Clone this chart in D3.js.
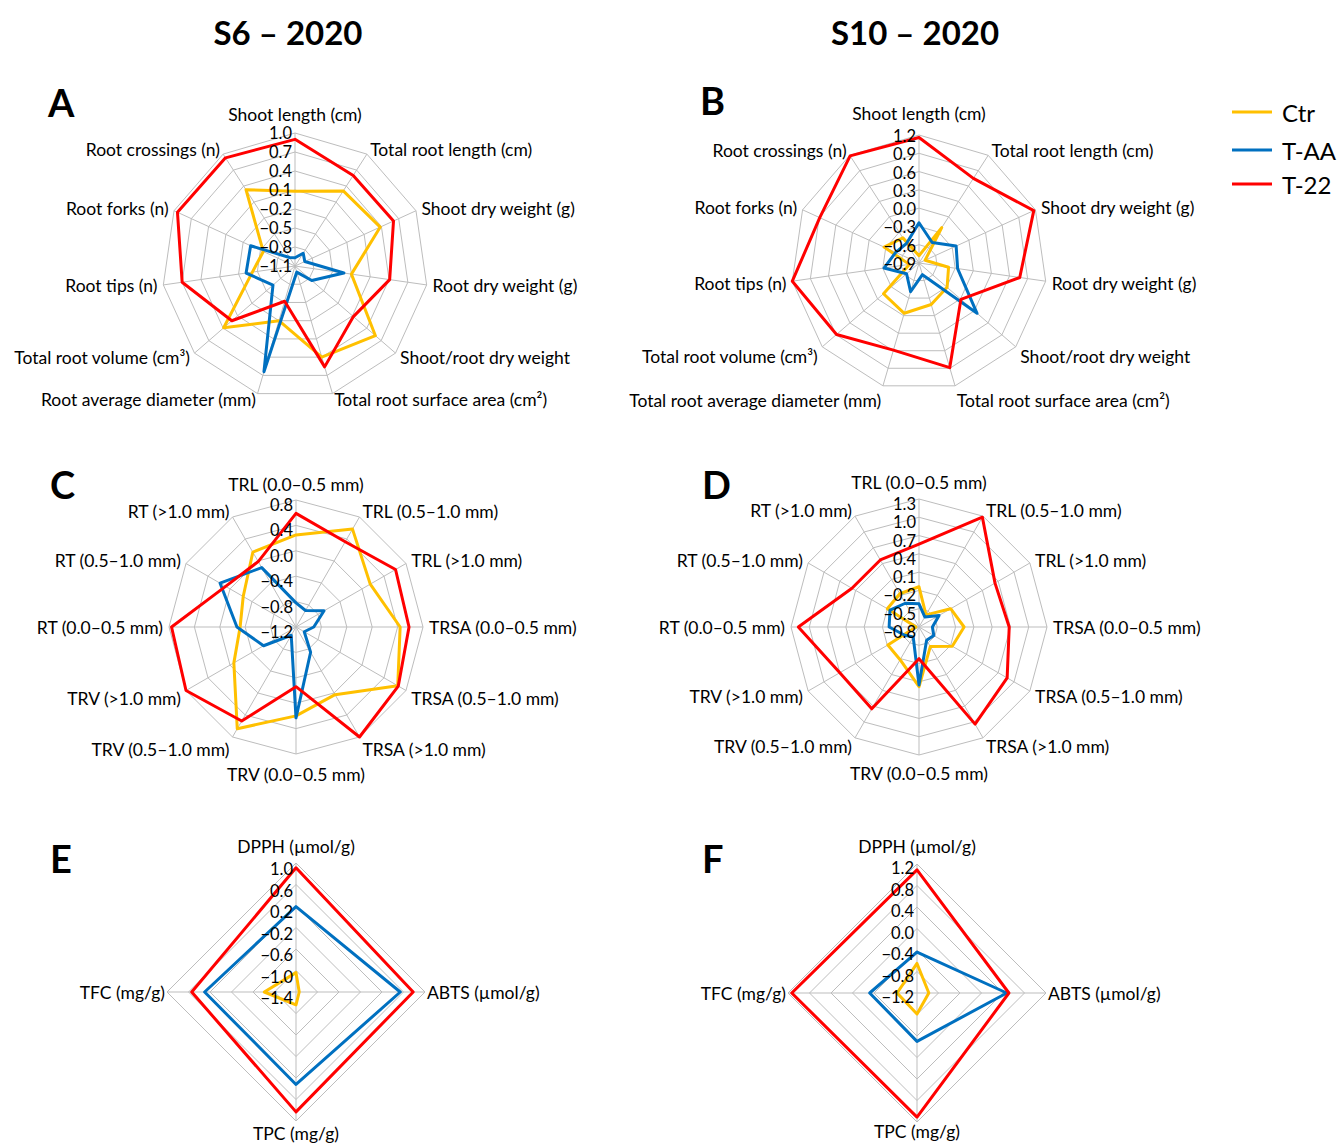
<!DOCTYPE html>
<html>
<head>
<meta charset="utf-8">
<script src="https://cdn.jsdelivr.net/npm/d3@7"></script>
<style>
  body { margin: 0; background: #fff; }
  text { font-family: Lato, "Open Sans", sans-serif; fill: #000; }
</style>
</head>
<body>
<svg id="chart" width="1339" height="1144"></svg>
<script>
// ---- series ----
const seriesNames = ["Ctr", "T-AA", "T-22"];
const seriesColors = ["#FFC000", "#0070C0", "#FF0000"];

// ---- axis categories ----
const growthAxesS6 = ["Shoot length (cm)", "Total root length (cm)", "Shoot dry weight (g)",
  "Root dry weight (g)", "Shoot/root dry weight", "Total root surface area (cm²)",
  "Root average diameter (mm)", "Total root volume (cm³)", "Root tips (n)",
  "Root forks (n)", "Root crossings (n)"];
const growthAxesS10 = ["Shoot length (cm)", "Total root length (cm)", "Shoot dry weight (g)",
  "Root dry weight (g)", "Shoot/root dry weight", "Total root surface area (cm²)",
  "Total root average diameter (mm)", "Total root volume (cm³)", "Root tips (n)",
  "Root forks (n)", "Root crossings (n)"];
const rootClassAxes = ["TRL (0.0–0.5 mm)", "TRL (0.5–1.0 mm)", "TRL (>1.0 mm)",
  "TRSA (0.0–0.5 mm)", "TRSA (0.5–1.0 mm)", "TRSA (>1.0 mm)",
  "TRV (0.0–0.5 mm)", "TRV (0.5–1.0 mm)", "TRV (>1.0 mm)",
  "RT (0.0–0.5 mm)", "RT (0.5–1.0 mm)", "RT (>1.0 mm)"];
const antioxAxes = ["DPPH (µmol/g)", "ABTS (µmol/g)", "TPC (mg/g)", "TFC (mg/g)"];

// ---- standardized values (A: S6 growth) ----
const ctrA = [0.08, 0.31, 0.38, -0.20, 0.58, 0.40, -0.20, 0.39, -0.42, -0.55, 0.33];
const taaA = [-0.97, -0.86, -0.93, -0.32, -0.75, -1.00, 0.64, -0.64, -0.32, -0.33, -0.94];
const t22A = [0.90, 0.60, 0.61, 0.41, 0.12, 0.56, -0.52, 0.22, 0.70, 0.94, 0.93];

// ---- B: S10 growth ----
const ctrB = [-0.78, -0.21, -0.79, -0.41, -0.29, -0.19, -0.04, -0.13, -0.74, -0.27, -0.41];
const taaB = [-0.24, -0.50, -0.23, -0.26, 0.36, -0.70, -0.41, -0.63, -0.32, -0.48, -0.52];
const t22B = [1.16, 0.75, 1.17, 0.77, 0.01, 0.89, 0.59, 0.89, 1.20, 0.89, 1.19];

// ---- C: S6 root diameter classes ----
const ctrC = [0.25, 0.58, 0.15, 0.44, 0.65, 0.03, 0.20, 0.65, -0.07, -0.32, -0.24, 0.16];
const taaC = [-0.82, -0.90, -0.69, -0.92, -1.05, -0.74, 0.23, -1.05, -0.61, -0.27, 0.18, -0.12];
const t22C = [0.59, 0.35, 0.61, 0.58, 0.66, 0.80, -0.26, 0.51, 0.80, 0.76, 0.08, -0.01];

// ---- D: S10 root diameter classes ----
const ctrD = [-0.14, -0.57, -0.20, -0.06, -0.17, -0.43, 0.18, -0.18, -0.21, -0.75, -0.20, -0.17];
const taaD = [-0.42, -0.61, -0.42, -0.58, -0.52, -0.55, 0.15, -0.61, -0.53, -0.31, -0.25, -0.35];
const t22D = [0.56, 1.28, 0.64, 0.68, 0.87, 1.04, -0.28, 0.75, 0.70, 1.18, 0.47, 0.47];

// ---- E / F: antioxidant activity ----
const ctrE = [-1.04, -1.34, -1.16, -0.81];
const taaE = [0.19, 0.54, 0.32, 0.30];
const t22E = [0.91, 0.78, 0.83, 0.54];
const ctrF = [-0.65, -0.98, -0.81, -0.83];
const taaF = [-0.44, 0.47, -0.30, -0.32];
const t22F = [1.09, 0.51, 1.11, 1.13];

// ---- radial tick values ----
const ticksA = [-1.1, -0.8, -0.5, -0.2, 0.1, 0.4, 0.7, 1.0];
const ticksB = [-0.9, -0.6, -0.3, 0.0, 0.3, 0.6, 0.9, 1.2];
const ticksC = [-1.2, -0.8, -0.4, 0.0, 0.4, 0.8];
const ticksD = [-0.8, -0.5, -0.2, 0.1, 0.4, 0.7, 1.0, 1.3];
const ticksE = [-1.4, -1.0, -0.6, -0.2, 0.2, 0.6, 1.0];
const ticksF = [-1.2, -0.8, -0.4, 0.0, 0.4, 0.8, 1.2];

const columnTitles = ["S6 – 2020", "S10 – 2020"];

// ---- layout of the six panels ----
// gap: radial distance of category labels; drop: extra downward shift of lower labels;
// topShift / bottomShift: extra vertical offset of the labels on the vertical axis
const panels = [
  { letter: "A", lx: 48, ly: 102, cx: 295, cy: 266, R: 133, axes: growthAxesS6, data: [ctrA, taaA, t22A], ticks: ticksA, tickDy: 0, gap: 6, drop: 0.5, topShift: 13, bottomShift: 12 },
  { letter: "B", lx: 700, ly: 100, cx: 919, cy: 263, R: 128, axes: growthAxesS10, data: [ctrB, taaB, t22B], ticks: ticksB, tickDy: 1, gap: 6, drop: 9, topShift: 16, bottomShift: 12 },
  { letter: "C", lx: 50, ly: 484, cx: 296, cy: 627, R: 127, axes: rootClassAxes, data: [ctrC, taaC, t22C], ticks: ticksC, tickDy: 5, gap: 6, drop: 9, topShift: 10, bottomShift: 14 },
  { letter: "D", lx: 702, ly: 484, cx: 919, cy: 627, R: 128, axes: rootClassAxes, data: [ctrD, taaD, t22D], ticks: ticksD, tickDy: 5, gap: 6, drop: 4, topShift: 11, bottomShift: 12 },
  { letter: "E", lx: 50, ly: 858, cx: 296, cy: 992, R: 129, axes: antioxAxes, data: [ctrE, taaE, t22E], ticks: ticksE, tickDy: 6, gap: 2, drop: 0, topShift: 15, bottomShift: 10 },
  { letter: "F", lx: 702, ly: 858, cx: 917, cy: 993, R: 129, axes: antioxAxes, data: [ctrF, taaF, t22F], ticks: ticksF, tickDy: 4, gap: 2, drop: 0, topShift: 16, bottomShift: 7 }
];

const svg = d3.select("#chart");
const fmt = d3.format(".1f");

// column headings
svg.selectAll("text.col-title")
  .data(columnTitles)
  .join("text")
  .attr("class", "col-title")
  .attr("x", (d, i) => i === 0 ? 288 : 915)
  .attr("y", 32)
  .attr("text-anchor", "middle")
  .attr("dominant-baseline", "central")
  .style("font-size", "33px")
  .style("font-weight", "bold")
  .text(d => d);

panels.forEach(p => {
  const n = p.axes.length;
  const step = 2 * Math.PI / n;
  const r = d3.scaleLinear()
    .domain([p.ticks[0], p.ticks[p.ticks.length - 1]])
    .range([0, p.R]);

  // panel letter
  svg.append("text")
    .attr("x", p.lx).attr("y", p.ly)
    .attr("dominant-baseline", "central")
    .style("font-size", "38px").style("font-weight", "bold")
    .text(p.letter);

  const g = svg.append("g").attr("transform", `translate(${p.cx},${p.cy})`);
  const angles = d3.range(n).map(i => i * step);

  // concentric grid polygons
  const ring = d3.lineRadial()
    .angle((d, i) => angles[i])
    .radius(d => d)
    .curve(d3.curveLinearClosed);
  g.selectAll("path.ring")
    .data(p.ticks.slice(1))
    .join("path")
    .attr("class", "ring")
    .attr("d", t => ring(angles.map(() => r(t))))
    .attr("fill", "none")
    .attr("stroke", "#bdbdbd")
    .attr("stroke-width", 1);

  // spokes
  g.selectAll("line.spoke")
    .data(angles)
    .join("line")
    .attr("class", "spoke")
    .attr("x1", 0).attr("y1", 0)
    .attr("x2", a => p.R * Math.sin(a))
    .attr("y2", a => -p.R * Math.cos(a))
    .attr("stroke", "#bdbdbd")
    .attr("stroke-width", 1);

  // series polygons (drawn in order so T-22 sits on top)
  const poly = d3.lineRadial()
    .angle((d, i) => angles[i])
    .radius(d => r(d))
    .curve(d3.curveLinearClosed);
  g.selectAll("path.series")
    .data(p.data)
    .join("path")
    .attr("class", "series")
    .attr("d", d => poly(d))
    .attr("fill", "none")
    .attr("stroke", (d, i) => seriesColors[i])
    .attr("stroke-width", 3)
    .attr("stroke-linejoin", "round");

  // radial tick labels along the vertical axis
  g.selectAll("text.tick")
    .data(p.ticks)
    .join("text")
    .attr("class", "tick")
    .attr("x", -3)
    .attr("y", t => -r(t) + p.tickDy)
    .attr("text-anchor", "end")
    .attr("dominant-baseline", "central")
    .style("font-size", "16.5px")
    .text(t => fmt(t));

  // category labels around the outside
  g.selectAll("text.cat")
    .data(p.axes)
    .join("text")
    .attr("class", "cat")
    .each(function (d, i) {
      const dx = Math.sin(angles[i]), dy = -Math.cos(angles[i]);
      let x = (p.R + p.gap) * dx, y = (p.R + p.gap) * dy, anchor;
      if (Math.abs(dx) < 0.05) {
        anchor = "middle";
        y += dy < 0 ? -p.topShift : p.bottomShift;
      } else {
        anchor = dx > 0 ? "start" : "end";
        if (dy > 0) y += p.drop * dy;
      }
      d3.select(this)
        .attr("x", x).attr("y", y)
        .attr("text-anchor", anchor)
        .attr("dominant-baseline", "central");
    })
    .style("font-size", "17.5px")
    .text(d => d);
});

// legend
const legend = svg.append("g").attr("transform", "translate(1232,0)");
const legendY = [112, 150, 184];
seriesNames.forEach((name, i) => {
  legend.append("line")
    .attr("x1", 0).attr("x2", 40)
    .attr("y1", legendY[i]).attr("y2", legendY[i])
    .attr("stroke", seriesColors[i])
    .attr("stroke-width", 3);
  legend.append("text")
    .attr("x", 50).attr("y", legendY[i])
    .attr("dominant-baseline", "central")
    .style("font-size", "24px")
    .text(name);
});
</script>
</body>
</html>
